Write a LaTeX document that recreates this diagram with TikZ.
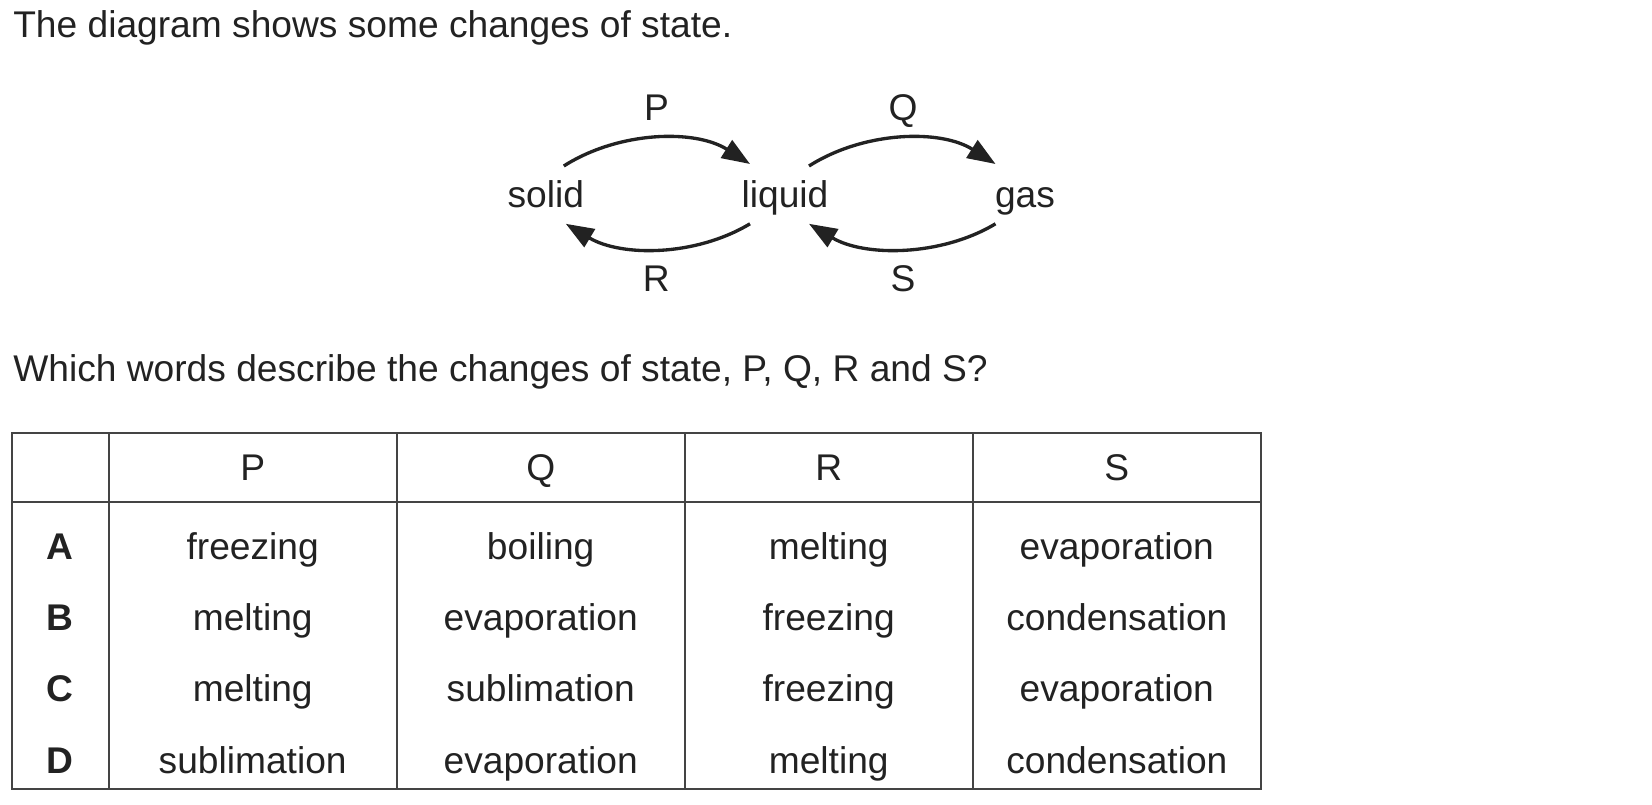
\documentclass[tikz,border=0pt]{standalone}
\usepackage{fontspec}
\setmainfont{Liberation Sans}
\usepackage{tikz}
\usetikzlibrary{arrows.meta,positioning,calc}
\definecolor{StateInk}{HTML}{222222}
\definecolor{StateRule}{HTML}{444444}

\begin{document}
\begin{tikzpicture}[x=.3pt,y=-.3pt,
  txt/.style={anchor=base,inner sep=0pt,text=StateInk,font=\fontsize{11.15}{13}\selectfont},
  change/.style={line width=1pt,StateInk,-{Triangle[length=8.4pt,width=6.2pt]}},
  rule/.style={line width=.6pt,StateRule}]
  \useasboundingbox (0,0) rectangle (1652,804);
  \node[txt,anchor=base west] (intro) at (12.6,38) {The diagram shows some changes of state.};
  \node[txt] (solid) at (545.8,208) {solid};
  \node[txt] (liquid) at (785,208) {liquid};
  \node[txt] (gas) at (1025,208) {gas};
  \node[txt] (lblP) at (656.4,121) {P};
  \node[txt] (lblQ) at (903,121) {Q};
  \node[txt] (lblR) at (656.4,291.8) {R};
  \node[txt] (lblS) at (903,291.8) {S};
  \draw[change] ([shift={(18,-42)}]solid.base) .. controls +(55,-35) and +(-55,-35) .. ([shift={(-35,-44)}]liquid.base);
  \draw[change] ([shift={(24,-42)}]liquid.base) .. controls +(55,-35) and +(-55,-35) .. ([shift={(-29.5,-44)}]gas.base);
  \draw[change] ([shift={(-35,15.8)}]liquid.base) .. controls +(-55,33) and +(55,33) .. ([shift={(20,15.8)}]solid.base);
  \draw[change] ([shift={(-29.5,15.8)}]gas.base) .. controls +(-55,33) and +(55,33) .. ([shift={(24,15.8)}]liquid.base);
  \node[txt,anchor=base west] (question) at (12.6,381.4) {Which words describe the changes of state, P, Q, R and S?};
  \draw[rule] (12,432.7) rectangle (1261,789);
  \draw[rule] (12,501.7) -- (1261,501.7);
  \foreach \x in {108.7,396.7,684.7,972.7} \draw[rule] (\x,432.7) -- (\x,789);
  \foreach \h/\x in {P/252.7,Q/540.7,R/828.7,S/1116.8}
    \node[txt] (head\h) at (\x,480.7) {\h};
  \foreach \key/\p/\q/\r/\s [count=\i] in {A/freezing/boiling/melting/evaporation,
      B/melting/evaporation/freezing/condensation,
      C/melting/sublimation/freezing/evaporation,
      D/sublimation/evaporation/melting/condensation} {
    \node[txt,font=\fontsize{11.15}{13}\selectfont\bfseries] (row\key) at (60.3,559.3+71.3*\i-71.3) {\key};
    \node[txt] (cellP\key) at (252.7,559.3+71.3*\i-71.3) {\p};
    \node[txt] (cellQ\key) at (540.7,559.3+71.3*\i-71.3) {\q};
    \node[txt] (cellR\key) at (828.7,559.3+71.3*\i-71.3) {\r};
    \node[txt] (cellS\key) at (1116.8,559.3+71.3*\i-71.3) {\s};
  }
\end{tikzpicture}
\end{document}
